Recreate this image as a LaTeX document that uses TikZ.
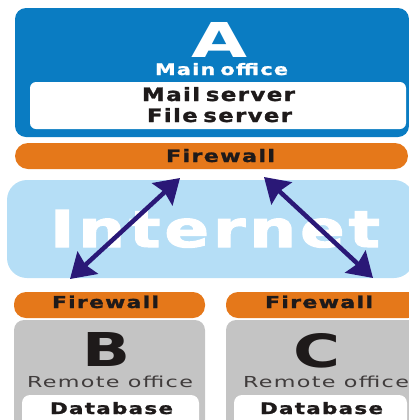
\documentclass[tikz,border=0pt]{standalone}
\usepackage{fontspec}
\usepackage{graphicx}
\usetikzlibrary{arrows.meta}
\newfontfamily\dvs[LetterSpace=6, WordSpace=0.6, BoldFeatures={FakeBold=1.2}]{DejaVu Sans}
\newfontfamily\dvsnet[LetterSpace=6, BoldFeatures={FakeBold=2}]{DejaVu Sans}
\newfontfamily\dvsplain{DejaVu Sans}
\definecolor{officeblue}{HTML}{0A7CC2}
\definecolor{fworange}{HTML}{E5781A}
\definecolor{netblue}{HTML}{B5DEF6}
\definecolor{remgray}{HTML}{C4C4C4}
\definecolor{arrowblue}{HTML}{2A1877}
\definecolor{inkdark}{HTML}{1E1A1A}
\newcommand{\fitbox}[3]{\resizebox{#1bp}{#2bp}{#3}}
\tikzset{
  txt/.style={anchor=base west, inner sep=0pt, outer sep=0pt},
  twoway/.style={arrowblue, line width=4.5bp, {Stealth[length=24bp,width=30bp,inset=3bp]}-{Stealth[length=24bp,width=30bp,inset=3bp]}},
}
\begin{document}
\begin{tikzpicture}[x=1bp,y=-1bp]
\useasboundingbox (0,0) rectangle (409,420);
\clip (0,0) rectangle (409,420);
% main office
\fill[officeblue, rounded corners=11bp] (15,8) rectangle (409,137);
\fill[white, rounded corners=6bp] (30,82) rectangle (406,129);
\node[txt, white] (A) at (192,57) {\fitbox{56}{35}{\dvsplain\bfseries A}};
\node[txt, white] (mainoffice) at (155,75) {\fitbox{133}{12}{\dvs\bfseries Main office}};
\node[txt, inkdark] (mail) at (142,101) {\fitbox{153}{14}{\dvs\bfseries Mail server}};
\node[txt, inkdark] (file) at (147,122) {\fitbox{145}{14}{\dvs\bfseries File server}};
% top firewall
\fill[fworange, rounded corners=13bp] (15,143) rectangle (408,169);
\node[txt, inkdark] (fwA) at (166,162) {\fitbox{109}{13}{\dvs\bfseries Firewall}};
% internet
\fill[netblue, rounded corners=20bp] (7,180) rectangle (414,278);
\node[txt, white] (inet) at (50,247) {\fitbox{330}{37}{\dvsnet\bfseries Internet}};
% remote offices
\fill[fworange, rounded corners=12bp] (14,292) rectangle (205,318);
\fill[fworange, rounded corners=12bp] (226,292) rectangle (420,318);
\fill[remgray, rounded corners=10bp] (14,320) rectangle (205,440);
\fill[remgray, rounded corners=10bp] (226,320) rectangle (420,440);
\fill[white, rounded corners=8bp] (22,395) rectangle (199,440);
\fill[white, rounded corners=8bp] (234,395) rectangle (407,440);
\node[txt, inkdark] (fwB) at (52,308) {\fitbox{107}{12.5}{\dvs\bfseries Firewall}};
\node[txt, inkdark] (fwC) at (265,308) {\fitbox{108}{12.5}{\dvs\bfseries Firewall}};
\node[txt, inkdark] (B) at (82,366) {\fitbox{48}{34}{\dvsplain\bfseries B}};
\node[txt, inkdark] (C) at (293,367) {\fitbox{47}{34}{\dvsplain\bfseries C}};
\node[txt, inkdark!85] (remB) at (27,387) {\fitbox{166}{11.5}{\dvs Remote office}};
\node[txt, inkdark!85] (remC) at (243,387) {\fitbox{166}{11.5}{\dvs Remote office}};
\node[txt, inkdark] (dbB) at (50,414) {\fitbox{123}{12}{\dvs\bfseries Database}};
\node[txt, inkdark] (dbC) at (260,414) {\fitbox{123}{12}{\dvs\bfseries Database}};
% arrows
\coordinate (la) at (180,178);
\coordinate (lb) at (70,279);
\coordinate (ra) at (264,177);
\coordinate (rb) at (373,278);
\draw[twoway] (la) -- (lb);
\draw[twoway] (ra) -- (rb);
\end{tikzpicture}
\end{document}
